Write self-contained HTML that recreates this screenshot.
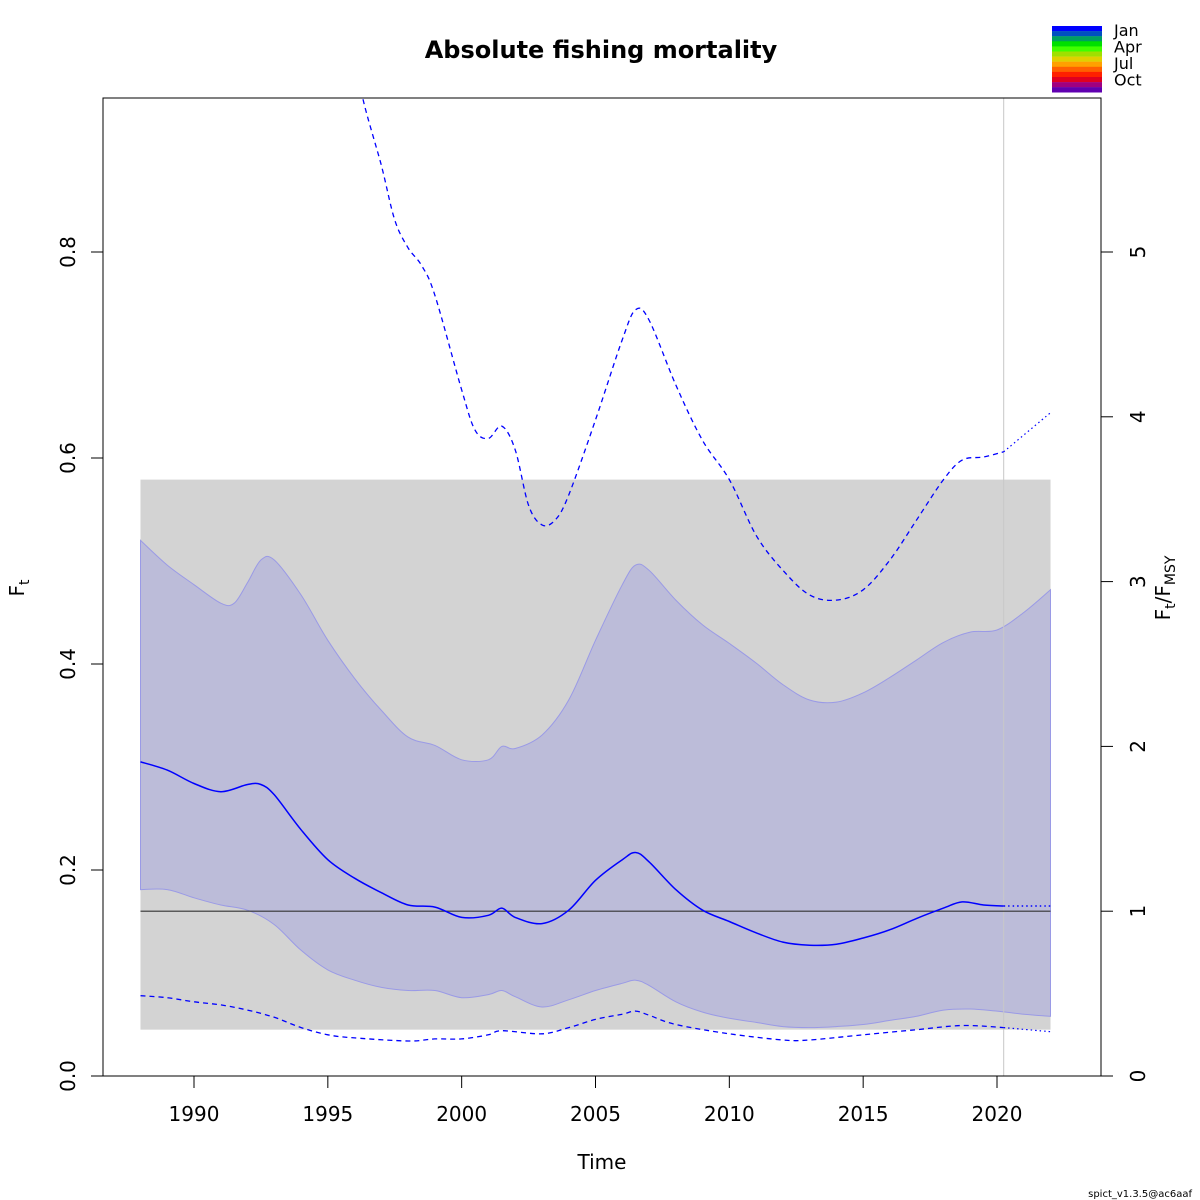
<!DOCTYPE html>
<html><head><meta charset="utf-8"><style>
body{margin:0;background:#fff}
svg{display:block;font-family:"DejaVu Sans","Liberation Sans",sans-serif}
</style></head><body>
<svg id="chart" width="1200" height="1200" viewBox="0 0 1200 1200">
<defs><clipPath id="pc"><rect x="103" y="98" width="998" height="978"/></clipPath></defs>
<g id="plot" clip-path="url(#pc)"></g>
<rect x="103" y="98" width="998" height="978" fill="none" stroke="#000" stroke-width="1"/>
<g id="axes"></g>
<text x="601" y="58" text-anchor="middle" font-size="24" font-weight="bold">Absolute fishing mortality</text>
<text x="602" y="1169" text-anchor="middle" font-size="20">Time</text>
<text transform="translate(24,588) rotate(-90)" text-anchor="middle" font-size="20">F<tspan font-size="14" dy="5">t</tspan></text>
<text transform="translate(1170,588) rotate(-90)" text-anchor="middle" font-size="20">F<tspan font-size="14" dy="5">t</tspan><tspan dy="-5">/F</tspan><tspan font-size="14" dy="5">MSY</tspan></text>
<text x="1192" y="1197" text-anchor="end" font-size="10">spict_v1.3.5@ac6aaf</text>
<g id="legend"></g>
</svg>
<script>
const years=[1988,1989,1990,1991,1992,1992.5,1993,1994,1995,1996,1997,1998,1999,2000,2001,2001.5,2002,2003,2004,2005,2006,2006.5,2007,2008,2009,2010,2011,2012,2013,2014,2015,2016,2017,2018,2018.7,2019.5,2020.25];
const fEst=[0.305,0.297,0.284,0.276,0.283,0.283,0.273,0.239,0.21,0.192,0.178,0.166,0.164,0.154,0.156,0.163,0.154,0.148,0.161,0.19,0.21,0.217,0.208,0.181,0.161,0.15,0.139,0.13,0.127,0.128,0.134,0.142,0.153,0.163,0.169,0.166,0.165];
const fPredYears=[2020.25,2022];
const fPred=[0.165,0.165];
const ciYears=[1988,1989,1990,1991,1991.5,1992,1992.5,1993,1994,1995,1996,1997,1998,1999,2000,2001,2001.5,2002,2003,2004,2005,2006,2006.5,2007,2008,2009,2010,2011,2012,2013,2014,2015,2016,2017,2018,2019,2020,2021,2022];
const ciUpper=[0.52,0.496,0.477,0.459,0.459,0.479,0.501,0.501,0.467,0.423,0.386,0.355,0.329,0.321,0.307,0.307,0.32,0.318,0.331,0.365,0.423,0.477,0.496,0.491,0.462,0.438,0.42,0.401,0.38,0.365,0.363,0.372,0.387,0.404,0.421,0.431,0.433,0.45,0.472];
const ciLowYears=[1988,1989,1990,1991,1992,1993,1994,1995,1996,1997,1998,1999,2000,2001,2001.5,2002,2003,2004,2005,2006,2006.5,2007,2008,2009,2010,2011,2012,2013,2014,2015,2016,2017,2018,2019,2020,2021,2022];
const ciLower=[0.181,0.181,0.173,0.166,0.161,0.147,0.122,0.103,0.093,0.086,0.083,0.083,0.076,0.079,0.083,0.077,0.067,0.074,0.083,0.09,0.093,0.088,0.072,0.062,0.056,0.052,0.048,0.047,0.048,0.05,0.054,0.058,0.064,0.065,0.063,0.06,0.058];
const upYears=[1996,1996.3,1997,1997.5,1998,1998.5,1999,2000,2000.5,2001,2001.5,2002,2002.5,2003,2003.5,2004,2005,2006,2006.5,2007,2008,2009,2010,2011,2012,2013,2014,2015,2016,2017,2018,2018.7,2019.5,2020.25];
const upDash=[1.0,0.95,0.884,0.831,0.804,0.787,0.758,0.666,0.627,0.619,0.631,0.608,0.554,0.535,0.54,0.564,0.637,0.715,0.744,0.734,0.671,0.617,0.579,0.525,0.491,0.467,0.462,0.472,0.501,0.54,0.579,0.598,0.601,0.606];
const upPredYears=[2020.25,2022];
const upPred=[0.606,0.644];
const loYears=[1988,1989,1990,1991,1992,1993,1994,1995,1996,1998,1999,2000,2001,2001.5,2003,2004,2005,2006,2006.5,2007,2008,2010,2012,2013,2015,2017,2018.7,2020.25];
const loDash=[0.078,0.076,0.072,0.069,0.064,0.057,0.047,0.04,0.037,0.034,0.036,0.036,0.04,0.044,0.041,0.047,0.055,0.06,0.063,0.059,0.05,0.041,0.035,0.035,0.04,0.045,0.049,0.047];
const loPredYears=[2020.25,2022];
const loPred=[0.047,0.043];
const fmsyBand=[0.045,0.579];
const fmsy=0.16;
const xTicks=[1990,1995,2000,2005,2010,2015,2020];
const yTicks=[0,0.2,0.4,0.6,0.8];
const rTicks=[0,1,2,3,4,5];
const months=["Jan","Apr","Jul","Oct"];

const X=t=>194+(t-1990)*(997-194)/30;
const Y=v=>1076-v*1030;
const NS="http://www.w3.org/2000/svg";
function mk(tag,attrs,parent){const e=document.createElementNS(NS,tag);for(const k in attrs)e.setAttribute(k,attrs[k]);parent.appendChild(e);return e;}
function smooth(xs,vs){const p=xs.map((t,i)=>[X(t),Y(vs[i])]);let d="M"+p[0][0].toFixed(1)+","+p[0][1].toFixed(1);
for(let i=0;i<p.length-1;i++){const p0=p[i-1]||p[i],p1=p[i],p2=p[i+1],p3=p[i+2]||p2;
const c1=[p1[0]+(p2[0]-p0[0])/6,p1[1]+(p2[1]-p0[1])/6],c2=[p2[0]-(p3[0]-p1[0])/6,p2[1]-(p3[1]-p1[1])/6];
d+="C"+c1.map(v=>v.toFixed(1))+" "+c2.map(v=>v.toFixed(1))+" "+p2[0].toFixed(1)+","+p2[1].toFixed(1);}return d;}
const plot=document.getElementById('plot');
let e=mk('rect',{x:X(1988),y:Y(fmsyBand[1]),width:X(2022)-X(1988),height:Y(fmsyBand[0])-Y(fmsyBand[1]),fill:'#d3d3d3'},plot);


const up=smooth(ciYears,ciUpper);
const lo=smooth(ciLowYears.slice().reverse(),ciLower.slice().reverse());
e=mk('path',{d:up+lo.replace(/^M/,"L")+"Z",fill:'#bcbcd9',stroke:'#9a9ae6','stroke-width':1},plot);


e=mk('line',{x1:X(2020.25),x2:X(2020.25),y1:98,y2:1076,stroke:'#c8c8c8','stroke-width':1},plot);


e=mk('line',{x1:X(1988),x2:X(2022),y1:Y(fmsy),y2:Y(fmsy),stroke:'#333','stroke-width':1.2},plot);


e=mk('path',{d:smooth(years,fEst),fill:'none',stroke:'#0000ff','stroke-width':1.5},plot);


e=mk('path',{d:smooth(fPredYears,fPred),fill:'none',stroke:'#0000ff','stroke-width':1.5,'stroke-dasharray':'1.5 3'},plot);


e=mk('path',{d:smooth(upYears,upDash),fill:'none',stroke:'#0000ff','stroke-width':1.3,'stroke-dasharray':'5 4'},plot);


e=mk('path',{d:smooth(upPredYears,upPred),fill:'none',stroke:'#0000ff','stroke-width':1.2,'stroke-dasharray':'1.5 3'},plot);


e=mk('path',{d:smooth(loYears,loDash),fill:'none',stroke:'#0000ff','stroke-width':1.3,'stroke-dasharray':'5 4'},plot);


e=mk('path',{d:smooth(loPredYears,loPred),fill:'none',stroke:'#0000ff','stroke-width':1.2,'stroke-dasharray':'1.5 3'},plot);



const ax=document.getElementById('axes');
mk('line',{x1:X(1990),x2:X(2020),y1:1076,y2:1076,stroke:'#000'},ax);
xTicks.forEach(t=>{mk('line',{x1:X(t),x2:X(t),y1:1076,y2:1088,stroke:'#000'},ax);
const l=mk('text',{x:X(t),y:1121,'text-anchor':'middle','font-size':20},ax);l.textContent=t;

});
mk('line',{x1:103,x2:103,y1:Y(0),y2:Y(0.8),stroke:'#000'},ax);
yTicks.forEach(v=>{mk('line',{x1:91,x2:103,y1:Y(v),y2:Y(v),stroke:'#000'},ax);
const l=mk('text',{transform:`translate(75,${Y(v)}) rotate(-90)`,'text-anchor':'middle','font-size':20},ax);l.textContent=v.toFixed(1);

});
mk('line',{x1:1101,x2:1101,y1:Y(0),y2:Y(5*fmsy),stroke:'#000'},ax);
rTicks.forEach(v=>{mk('line',{x1:1101,x2:1113,y1:Y(v*fmsy),y2:Y(v*fmsy),stroke:'#000'},ax);
const l=mk('text',{transform:`translate(1145,${Y(v*fmsy)}) rotate(-90)`,'text-anchor':'middle','font-size':20},ax);l.textContent=v;

});

const lg=document.getElementById('legend');
const cols=['#0000ff','#0050c0','#00a060','#00e000','#40ff00','#a0e000','#e0d000','#ffa000','#ff6000','#ff2000','#e00020','#a00080','#6000b0'];
cols.forEach((c,i)=>{const r=mk('rect',{x:1052,y:26+i*5.1,width:50,height:5.3,fill:c},lg);

});
months.forEach((m,i)=>{const t=mk('text',{x:1114,y:36+i*16.5,'font-size':16},lg);t.textContent=m;

});
</script>
</body></html>
